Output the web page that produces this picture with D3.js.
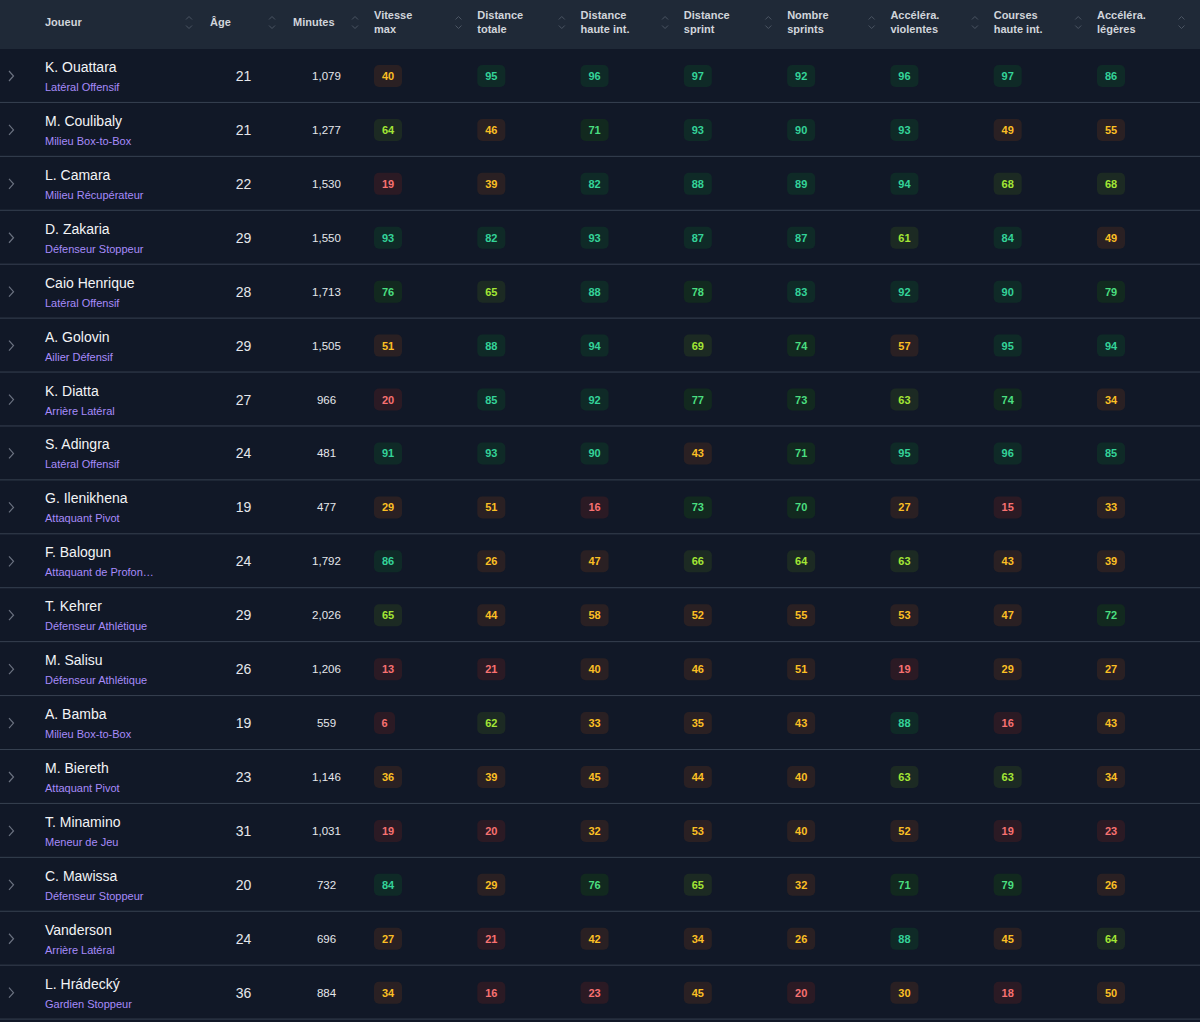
<!DOCTYPE html>
<html>
<head>
<meta charset="utf-8">
<script src="https://cdn.jsdelivr.net/npm/d3@7"></script>
<style>
  html, body { margin: 0; padding: 0; background: #111827; }
  svg { display: block; font-family: "Liberation Sans", Arial, sans-serif; }
</style>
</head>
<body>
<div id="chart"></div>
<script>
// ==============================================
// data

const players = ['K. Ouattara', 'M. Coulibaly', 'L. Camara', 'D. Zakaria', 'Caio Henrique', 'A. Golovin', 'K. Diatta', 'S. Adingra', 'G. Ilenikhena', 'F. Balogun', 'T. Kehrer', 'M. Salisu', 'A. Bamba', 'M. Biereth', 'T. Minamino', 'C. Mawissa', 'Vanderson', 'L. Hrádecký'];
const roles = ['Latéral Offensif', 'Milieu Box-to-Box', 'Milieu Récupérateur', 'Défenseur Stoppeur', 'Latéral Offensif', 'Ailier Défensif', 'Arrière Latéral', 'Latéral Offensif', 'Attaquant Pivot', 'Attaquant de Profon…', 'Défenseur Athlétique', 'Défenseur Athlétique', 'Milieu Box-to-Box', 'Attaquant Pivot', 'Meneur de Jeu', 'Défenseur Stoppeur', 'Arrière Latéral', 'Gardien Stoppeur'];
const ages = [21, 21, 22, 29, 28, 29, 27, 24, 19, 24, 29, 26, 19, 23, 31, 20, 24, 36];
const minutes = [1079, 1277, 1530, 1550, 1713, 1505, 966, 481, 477, 1792, 2026, 1206, 559, 1146, 1031, 732, 696, 884];

const metric_labels = [['Vitesse', 'max'], ['Distance', 'totale'], ['Distance', 'haute int.'], ['Distance', 'sprint'], ['Nombre', 'sprints'], ['Accéléra.', 'violentes'], ['Courses', 'haute int.'], ['Accéléra.', 'légères']];

const vitesse_max = [40, 64, 19, 93, 76, 51, 20, 91, 29, 86, 65, 13, 6, 36, 19, 84, 27, 34];
const distance_totale = [95, 46, 39, 82, 65, 88, 85, 93, 51, 26, 44, 21, 62, 39, 20, 29, 21, 16];
const distance_haute = [96, 71, 82, 93, 88, 94, 92, 90, 16, 47, 58, 40, 33, 45, 32, 76, 42, 23];
const distance_sprint = [97, 93, 88, 87, 78, 69, 77, 43, 73, 66, 52, 46, 35, 44, 53, 65, 34, 45];
const nombre_sprints = [92, 90, 89, 87, 83, 74, 73, 71, 70, 64, 55, 51, 43, 40, 40, 32, 26, 20];
const accel_violentes = [96, 93, 94, 61, 92, 57, 63, 95, 27, 63, 53, 19, 88, 63, 52, 71, 88, 30];
const courses_haute = [97, 49, 68, 84, 90, 95, 74, 96, 15, 43, 47, 29, 16, 63, 19, 79, 45, 18];
const accel_legeres = [86, 55, 68, 49, 79, 94, 34, 85, 33, 39, 72, 27, 43, 34, 23, 26, 64, 50];

const metric_series = [vitesse_max, distance_totale, distance_haute, distance_sprint, nombre_sprints, accel_violentes, courses_haute, accel_legeres];

const score_breaks = [25, 60, 70, 80];
const score_text = ['#f87171', '#fbbf24', '#a3e635', '#4ade80', '#34d399'];
const score_fill = ['#2b1a24', '#2a2023', '#1c2a23', '#12291f', '#0f2a27'];

// ==============================================

const width = 1200;
const height = 1022;
const header_h = 49;

const svg = d3.select('#chart').append('svg').attr('width', width).attr('height', height);

svg.append('rect').attr('width', width).attr('height', height).attr('fill', '#111827');
svg.append('rect').attr('width', width).attr('height', header_h).attr('fill', '#1f2937');

const y = d3.scaleBand().domain(d3.range(players.length)).range([header_h, 1019.6]);
const x_metric = d3.scaleLinear().domain([0, 7]).range([374, 1097]);
const color_idx = d3.scaleThreshold().domain(score_breaks).range(d3.range(5));
const fmt = d3.format(',');

// --------------------------------------------
// sort arrows

function sort_icon(g, x) {
  const icon = g.append('g').attr('transform', `translate(${x},22.5)`)
    .attr('fill', 'none').attr('stroke', '#4b5563').attr('stroke-width', 1);
  icon.append('path').attr('d', 'M-3,-3 L0,-6 L3,-3');
  icon.append('path').attr('d', 'M-3,3 L0,6 L3,3');
}

// --------------------------------------------
// header

const header = svg.append('g').attr('font-size', 11).attr('font-weight', 700).attr('fill', '#d1d5db');

[['Joueur', 45, 189], ['Âge', 210, 272], ['Minutes', 293, 355]].forEach(([label, x, icon_x]) => {
  header.append('text').attr('x', x).attr('y', 26).text(label);
  sort_icon(header, icon_x);
});

metric_labels.forEach((lines, i) => {
  lines.forEach((line, k) => {
    header.append('text').attr('x', x_metric(i)).attr('y', 19 + k * 14).text(line);
  });
  sort_icon(header, x_metric(i) + 84.5);
});

// --------------------------------------------
// rows

const rows = svg.selectAll('g.row').data(players).enter().append('g')
  .attr('class', 'row')
  .attr('transform', (dta, i) => `translate(0,${y(i)})`);

rows.append('line')
  .attr('x1', 0).attr('x2', width)
  .attr('y1', y.bandwidth() - 0.5).attr('y2', y.bandwidth() - 0.5)
  .attr('stroke', '#374151');

rows.append('path')
  .attr('d', 'M9,22 L13.5,27 L9,32')
  .attr('fill', 'none').attr('stroke', '#6b7280').attr('stroke-width', 1.2);

rows.append('text').attr('x', 45).attr('y', 23).attr('font-size', 14).attr('fill', '#f3f4f6').text((dta) => dta);
rows.append('text').attr('x', 45).attr('y', 42).attr('font-size', 11).attr('fill', '#a78bfa').text((dta, i) => roles[i]);
rows.append('text').attr('x', 243.5).attr('y', 32).attr('text-anchor', 'middle').attr('font-size', 14).attr('fill', '#e5e7eb').text((dta, i) => ages[i]);
rows.append('text').attr('x', 326.5).attr('y', 31).attr('text-anchor', 'middle').attr('font-size', 11.5).attr('fill', '#e5e7eb').text((dta, i) => fmt(minutes[i]));

metric_series.forEach((series, m) => {
  const badge = rows.append('g').attr('transform', `translate(${x_metric(m)},0)`);
  badge.append('rect')
    .attr('x', 0).attr('y', 16)
    .attr('width', (dta, i) => (series[i] < 10 ? 21 : 28)).attr('height', 22).attr('rx', 5)
    .attr('fill', (dta, i) => score_fill[color_idx(series[i])]);
  badge.append('text')
    .attr('x', (dta, i) => (series[i] < 10 ? 10.5 : 14)).attr('y', 31)
    .attr('text-anchor', 'middle').attr('font-size', 11).attr('font-weight', 700)
    .attr('fill', (dta, i) => score_text[color_idx(series[i])])
    .text((dta, i) => series[i]);
});

// ==============================================
</script>
</body>
</html>
